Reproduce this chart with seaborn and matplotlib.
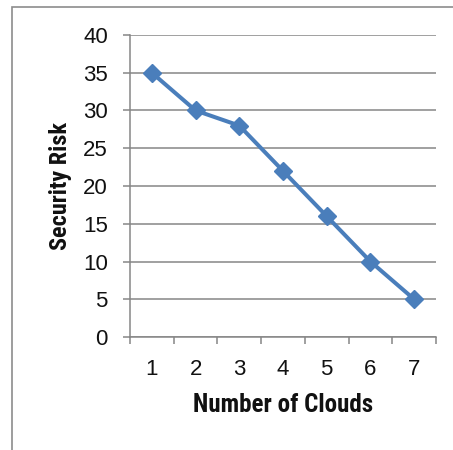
import matplotlib
matplotlib.use("Agg")
import matplotlib.pyplot as plt
import seaborn as sns
import numpy as np
import pandas as pd
from matplotlib.patches import Rectangle
from matplotlib.ticker import FixedLocator

clouds = ["1", "2", "3", "4", "5", "6", "7"]
security_risk = [35, 30, 28, 22, 16, 10, 5]
y_ticks = [0, 5, 10, 15, 20, 25, 30, 35, 40]

sns.set_style("white")
plt.rcParams['font.family'] = ['Liberation Sans', 'DejaVu Sans']
label_fonts = ['Roboto Condensed', 'Fira Sans Condensed', 'Liberation Sans', 'DejaVu Sans']

W, H = 453, 450
fig = plt.figure(figsize=(W / 100, H / 100), dpi=100)
ax = fig.add_axes([130 / W, 1 - 337 / H, (436 - 130) / W, (337 - 35) / H])

df = pd.DataFrame({"Number of Clouds": clouds, "Security Risk": security_risk})
blue = "#4A7EBB"
sns.pointplot(data=df, x="Number of Clouds", y="Security Risk", ax=ax,
              color=blue, markers="D", markersize=9, linewidth=2.9,
              errorbar=None)
for ln in ax.lines:
    ln.set_markeredgecolor(blue)
    ln.set_markeredgewidth(1)
    ln.set_solid_joinstyle("round")
    ln.set_solid_capstyle("round")

ax.set_xlim(-0.5, 6.5)
ax.set_ylim(0, 40)
ax.set_yticks(y_ticks)
ax.set_yticklabels([str(v) for v in y_ticks])
ax.set_xticks(range(len(clouds)))
ax.set_xticklabels(clouds)
ax.xaxis.set_minor_locator(FixedLocator(np.arange(-0.5, 7, 1.0)))

grid_c = "#868686"
ax.grid(axis="y", color=grid_c, linewidth=1.1)
ax.set_axisbelow(True)
for s in ["top", "right"]:
    ax.spines[s].set_visible(False)
for s in ["left", "bottom"]:
    ax.spines[s].set_color(grid_c)
    ax.spines[s].set_linewidth(1.1)

ax.tick_params(axis="y", which="major", length=5, width=1.1, color=grid_c,
               direction="out", labelsize=16, pad=11, left=True, labelcolor="#111111")
ax.tick_params(axis="x", which="major", length=0, labelsize=16, pad=16, labelcolor="#111111")
ax.tick_params(axis="x", which="minor", length=5, width=1.1, color=grid_c,
               direction="out", bottom=True)

ax.set_xlabel("Number of Clouds", fontsize=18, fontweight="bold", labelpad=9,
              family=label_fonts, color="#111111")
ax.set_ylabel("Security Risk", fontsize=17.5, fontweight="bold", labelpad=8,
              family=label_fonts, color="#111111")

fig.patches.append(Rectangle((12 / W, -0.1), 1.2, 1 - 7 / H + 0.1,
                             transform=fig.transFigure, fill=False,
                             edgecolor="#8C8C8C", linewidth=1.2))

fig.savefig("out.png", dpi=100)
